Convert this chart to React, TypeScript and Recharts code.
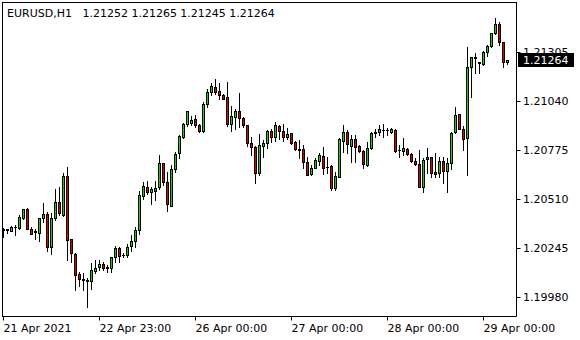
import { ComposedChart, Bar, XAxis, YAxis, ReferenceLine } from "recharts";

const symbol = "EURUSD,H1";

// hourly bars, oldest first
const opens = [
  1.2035, 1.20348, 1.2034, 1.20361, 1.20356, 1.2041, 1.20461, 1.20353, 1.20337, 1.20327,
  1.20408, 1.20432, 1.20252, 1.20408, 1.20495, 1.20426, 1.20637, 1.20294, 1.20214, 1.20107,
  1.2008, 1.20073, 1.20071, 1.20125, 1.20143, 1.20161, 1.20145, 1.20138, 1.20197, 1.20246,
  1.2021, 1.20208, 1.20259, 1.20287, 1.20345, 1.20529, 1.20578, 1.20552, 1.20558, 1.20576,
  1.20706, 1.20603, 1.20476, 1.20673, 1.2076, 1.20846, 1.20917, 1.20922, 1.20944, 1.20913,
  1.20882, 1.21027, 1.2109, 1.21118, 1.21097, 1.21075, 1.21064, 1.20917, 1.20958, 1.20989,
  1.20949, 1.20911, 1.20814, 1.20796, 1.20652, 1.20801, 1.20818, 1.2088, 1.2085, 1.20908,
  1.2088, 1.20846, 1.20868, 1.20819, 1.20782, 1.20782, 1.20714, 1.20646, 1.20682, 1.2072,
  1.20747, 1.20688, 1.20693, 1.20574, 1.20633, 1.20828, 1.20877, 1.20801, 1.20837, 1.20799,
  1.20772, 1.20697, 1.20787, 1.20872, 1.20873, 1.20886, 1.20886, 1.20877, 1.20886, 1.20778,
  1.20774, 1.20783, 1.20754, 1.20718, 1.207, 1.20579, 1.20727, 1.20738, 1.20657, 1.20655,
  1.20718, 1.20664, 1.20709, 1.20873, 1.20971, 1.20891, 1.20841, 1.21225, 1.21274, 1.2125,
  1.21241, 1.21309, 1.21342, 1.21409, 1.21459, 1.2136, 1.21252,
];
const highs = [
  1.20356, 1.20352, 1.20369, 1.20372, 1.20426, 1.20461, 1.20464, 1.20364, 1.2035, 1.2041,
  1.20491, 1.20444, 1.20437, 1.20567, 1.20575, 1.20655, 1.20686, 1.20296, 1.20221, 1.2012,
  1.20112, 1.20085, 1.20167, 1.20183, 1.20183, 1.20174, 1.20156, 1.20199, 1.2026, 1.20253,
  1.20222, 1.20269, 1.20318, 1.20363, 1.20556, 1.20606, 1.2061, 1.2058, 1.2061, 1.20751,
  1.20707, 1.2066, 1.20697, 1.20769, 1.20859, 1.20922, 1.20991, 1.20962, 1.20967, 1.20916,
  1.21039, 1.21108, 1.21138, 1.21162, 1.2114, 1.21081, 1.21145, 1.21016, 1.21002, 1.21084,
  1.20958, 1.20913, 1.2085, 1.20797, 1.20863, 1.20832, 1.20886, 1.20891, 1.20928, 1.20913,
  1.20917, 1.20895, 1.2087, 1.20826, 1.20832, 1.20805, 1.20741, 1.20697, 1.20736, 1.2076,
  1.20792, 1.20741, 1.20694, 1.2066, 1.2084, 1.20913, 1.20886, 1.20859, 1.20859, 1.20805,
  1.20778, 1.20819, 1.20873, 1.20891, 1.20913, 1.20917, 1.20898, 1.20898, 1.20889, 1.20805,
  1.20841, 1.20787, 1.2076, 1.20733, 1.20778, 1.20733, 1.20787, 1.2074, 1.2076, 1.20741,
  1.20741, 1.20733, 1.20877, 1.21012, 1.20972, 1.20908, 1.21333, 1.21283, 1.21301, 1.21251,
  1.21313, 1.21346, 1.21412, 1.2149, 1.21472, 1.21362, 1.21265,
];
const lows = [
  1.20307, 1.2033, 1.20337, 1.20318, 1.2035, 1.20405, 1.2035, 1.20323, 1.20296, 1.20283,
  1.20388, 1.20234, 1.20215, 1.20399, 1.20426, 1.20421, 1.20183, 1.20172, 1.2002, 1.20042,
  1.2002, 1.19927, 1.20024, 1.20112, 1.20129, 1.20129, 1.2012, 1.2012, 1.20174, 1.20174,
  1.20197, 1.20197, 1.20232, 1.20253, 1.20322, 1.20511, 1.20538, 1.20484, 1.20507, 1.20565,
  1.20588, 1.20449, 1.20475, 1.2066, 1.20733, 1.20841, 1.20909, 1.20913, 1.209, 1.20877,
  1.20877, 1.21012, 1.21075, 1.21078, 1.21054, 1.21051, 1.20905, 1.20878, 1.20891, 1.20902,
  1.20902, 1.20802, 1.20751, 1.20601, 1.20642, 1.2074, 1.2079, 1.20823, 1.20826, 1.20837,
  1.20826, 1.20837, 1.20808, 1.20778, 1.20736, 1.20679, 1.2064, 1.2064, 1.20679, 1.20697,
  1.20646, 1.20652, 1.20561, 1.20561, 1.20632, 1.20769, 1.2076, 1.20714, 1.20714, 1.20765,
  1.20682, 1.20693, 1.20783, 1.2085, 1.20859, 1.2085, 1.20859, 1.20868, 1.20769, 1.20741,
  1.20751, 1.20751, 1.20714, 1.20697, 1.20578, 1.20552, 1.20652, 1.20633, 1.20633, 1.20633,
  1.20598, 1.20552, 1.20673, 1.20868, 1.20889, 1.20778, 1.20642, 1.21066, 1.21196, 1.21196,
  1.21237, 1.21286, 1.21336, 1.21405, 1.21346, 1.21228, 1.21245,
];
const closes = [
  1.20345, 1.20347, 1.20364, 1.20362, 1.20413, 1.20456, 1.20353, 1.20326, 1.20335, 1.20408,
  1.20432, 1.20255, 1.20408, 1.20495, 1.20439, 1.20637, 1.20291, 1.20219, 1.20102, 1.20078,
  1.20077, 1.20069, 1.20129, 1.20138, 1.20161, 1.2014, 1.20142, 1.20197, 1.20246, 1.20206,
  1.20208, 1.20255, 1.20287, 1.20345, 1.20534, 1.20583, 1.20552, 1.20565, 1.20571, 1.20706,
  1.20603, 1.20484, 1.20673, 1.20754, 1.20853, 1.20917, 1.20989, 1.2094, 1.20913, 1.20882,
  1.21027, 1.2109, 1.21125, 1.2109, 1.21074, 1.21056, 1.20917, 1.20962, 1.20989, 1.20949,
  1.20911, 1.20814, 1.20796, 1.20652, 1.20805, 1.20814, 1.2088, 1.2085, 1.20913, 1.2088,
  1.20846, 1.20864, 1.20814, 1.20783, 1.2078, 1.20714, 1.20642, 1.20682, 1.20724, 1.20751,
  1.20682, 1.20686, 1.20571, 1.20637, 1.20837, 1.20877, 1.20808, 1.20837, 1.20796, 1.20772,
  1.207, 1.20787, 1.20868, 1.20873, 1.20891, 1.20885, 1.20884, 1.20891, 1.20774, 1.20776,
  1.20787, 1.20754, 1.20718, 1.207, 1.20579, 1.20724, 1.20741, 1.20652, 1.20648, 1.20718,
  1.20666, 1.20706, 1.20871, 1.20967, 1.2089, 1.20837, 1.21225, 1.21282, 1.21282, 1.21251,
  1.21309, 1.2134, 1.21409, 1.21459, 1.21363, 1.21252, 1.21264,
];

const xTickIdx = [0, 24, 48, 72, 96, 120];
const xTickLabels = ["21 Apr 2021", "22 Apr 23:00", "26 Apr 00:00", "27 Apr 00:00", "28 Apr 00:00", "29 Apr 00:00"];
const yTicks = [1.1998, 1.20245, 1.2051, 1.20775, 1.2104, 1.21305];

const data = opens.map((o, i) => ({ i, open: o, high: highs[i], low: lows[i], close: closes[i] }));
const last = data[data.length - 1];

const BULL = "#00dd00";
const BEAR = "#dd0000";
const FONT = "'DejaVu Sans', sans-serif";

function Candle(props: any) {
  const { x, y, width, height, payload } = props;
  if (x == null || !payload) return null;
  const { open, close, high, low } = payload;
  const span = high - low;
  const k = span > 0 ? height / span : 0;
  const py = (v: number) => Math.round(y + (high - v) * k);
  const col = Math.floor(x + width / 2);
  const yH = py(high);
  const yL = py(low);
  const yT = py(Math.max(open, close));
  const yB = py(Math.min(open, close));
  const up = close >= open;
  return (
    <g shapeRendering="crispEdges">
      <line x1={col + 0.5} x2={col + 0.5} y1={yH} y2={yL + 1} stroke="#000" />
      {yB > yT ? (
        <rect x={col - 0.5} y={yT + 0.5} width={2} height={yB - yT} fill={up ? BULL : BEAR} stroke="#000" />
      ) : (
        <line x1={col - 1} x2={col + 2} y1={yT + 0.5} y2={yT + 0.5} stroke="#000" />
      )}
    </g>
  );
}

function XTick(props: any) {
  const { x, y, payload } = props;
  const k = xTickIdx.indexOf(payload.value);
  return (
    <text x={x} y={y} dy={11.5} textAnchor="start" fontSize={11} fontFamily={FONT} fill="#000">
      {xTickLabels[k]}
    </text>
  );
}

function PriceTag(props: any) {
  const vb = props.viewBox;
  if (!vb) return null;
  const right = Math.ceil(vb.x + vb.width);
  const cy = Math.round(vb.y);
  return (
    <g>
      <rect x={right + 1} y={cy - 7} width={56} height={14} fill="#000" />
      <text x={right + 6} y={cy + 4} fill="#fff" fontSize={11} fontFamily={FONT}>
        {last.close.toFixed(5)}
      </text>
    </g>
  );
}

export default function App() {
  const header = `${symbol}   ${last.open.toFixed(5)} ${last.high.toFixed(5)} ${last.low.toFixed(5)} ${last.close.toFixed(5)}`;
  return (
    <div style={{ position: "absolute", left: 0, top: 0, width: 580, height: 340, background: "#fff" }}>
      <ComposedChart width={580} height={340} data={data} margin={{ top: 2.5, right: 0, bottom: 0, left: 2.5 }}>
        <XAxis
          dataKey="i"
          type="number"
          domain={[-0.25, 128.25]}
          allowDataOverflow
          ticks={xTickIdx}
          interval={0}
          tick={<XTick />}
          tickSize={4}
          tickMargin={0}
          height={23.5}
          axisLine={{ stroke: "#000" }}
          tickLine={{ stroke: "#000" }}
        />
        <YAxis
          orientation="right"
          type="number"
          domain={[1.198773, 1.215754]}
          allowDataOverflow
          ticks={yTicks}
          interval={0}
          width={63.5}
          tickSize={4}
          tickMargin={2.5}
          tickFormatter={(v: number) => v.toFixed(5)}
          tick={{ fill: "#000", fontSize: 11, fontFamily: FONT }}
          axisLine={{ stroke: "#000" }}
          tickLine={{ stroke: "#000" }}
        />
        <Bar dataKey={(d: any) => [d.low, d.high]} shape={<Candle />} barSize={3} isAnimationActive={false} />
        <ReferenceLine y={last.close} stroke="none" ifOverflow="visible" label={<PriceTag />} />
      </ComposedChart>
      <div
        style={{
          position: "absolute",
          left: 2,
          top: 2,
          width: 515,
          height: 315,
          boxSizing: "border-box",
          borderTop: "1px solid #000",
          borderLeft: "1px solid #000",
          pointerEvents: "none",
        }}
      />
      <div
        style={{
          position: "absolute",
          left: 7,
          top: 7,
          fontFamily: FONT,
          fontSize: 11,
          lineHeight: "13px",
          whiteSpace: "pre",
          color: "#000",
        }}
      >
        {header}
      </div>
    </div>
  );
}
